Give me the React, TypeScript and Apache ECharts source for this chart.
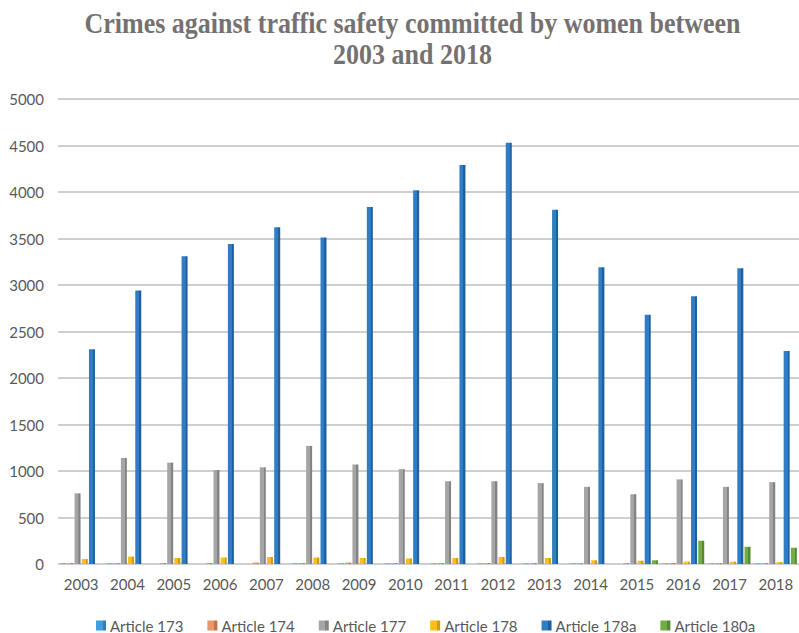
import React, { useEffect, useRef } from "react";
import * as echarts from "echarts";

const years = ["2003","2004","2005","2006","2007","2008","2009","2010","2011","2012","2013","2014","2015","2016","2017","2018"];
const art173 = [5,5,0,0,0,5,5,5,5,5,5,5,0,5,5,5];
const art174 = [10,10,10,10,15,10,15,10,10,10,10,10,10,10,10,10];
const art177 = [760,1140,1090,1010,1040,1270,1070,1020,890,890,870,830,750,910,830,880];
const art178 = [55,80,65,70,75,70,65,60,65,75,65,40,35,25,25,20];
const art178a = [2310,2940,3310,3440,3620,3510,3840,4020,4290,4530,3810,3190,2680,2880,3180,2290];
const art180a = [0,0,0,0,0,0,0,0,0,0,0,0,40,250,185,175];

const titleLines = ["Crimes against traffic safety committed by women between", "2003 and 2018"];
const seriesNames = ["Article 173","Article 174","Article 177","Article 178","Article 178a","Article 180a"];
const seriesColors = ["#3f9fde","#e8956a","#a5a5a5","#fbbd1a","#2e7dc6","#70ad47"];
const seriesDark = ["#2f7fb6","#c0744c","#838383","#d29b0c","#1f5f9c","#548a33"];

export default function App() {
  const ref = useRef<HTMLDivElement>(null);
  useEffect(() => {
    document.body.style.margin = "0";
    const chart = echarts.init(ref.current!, null, { renderer: "svg" });
    const data = [art173, art174, art177, art178, art178a, art180a];
    chart.setOption({
      animation: false,
      backgroundColor: "#ffffff",
      graphic: titleLines.map((t, i) => ({
        type: "text",
        x: 412.5,
        y: 23 + i * 31,
        scaleY: 1.14,
        z: 10,
        style: {
          text: t,
          font: "bold 26px 'Liberation Serif'",
          fill: "#767171",
          align: "center",
          verticalAlign: "middle",
        },
      })),
      legend: {
        top: 618,
        left: 96,
        padding: 0,
        itemWidth: 10,
        itemHeight: 10,
        itemGap: 24,
        icon: "rect",
        textStyle: { fontFamily: "Lato", fontSize: 15, color: "#595959", padding: [0, 0, 0, -1] },
        data: seriesNames,
      },
      grid: { left: 58, right: 0, top: 99, bottom: 69 },
      xAxis: {
        type: "category",
        data: years,
        axisLine: { show: false },
        axisTick: { show: false },
        axisLabel: { fontFamily: "Lato", fontSize: 15, color: "#595959", margin: 12 },
      },
      yAxis: {
        type: "value",
        min: 0,
        max: 5000,
        interval: 500,
        axisLine: { show: false },
        axisTick: { show: false },
        axisLabel: {
          fontFamily: "Lato",
          fontSize: 15,
          color: "#595959",
          margin: 14,
          formatter: (v: number) => String(v),
        },
        splitLine: { lineStyle: { color: "#cfcfd1", width: 2 } },
      },
      series: seriesNames.map((name, i) => ({
        name,
        type: "bar",
        data: data[i],
        barWidth: 6,
        barGap: "20%",
        itemStyle: {
          color: new echarts.graphic.LinearGradient(0, 0, 1, 0, [
            { offset: 0, color: seriesColors[i] },
            { offset: 0.65, color: seriesColors[i] },
            { offset: 0.66, color: seriesDark[i] },
            { offset: 1, color: seriesDark[i] },
          ]),
        },
      })),
    });
    return () => chart.dispose();
  }, []);
  return <div ref={ref} style={{ width: 799, height: 633 }} />;
}
